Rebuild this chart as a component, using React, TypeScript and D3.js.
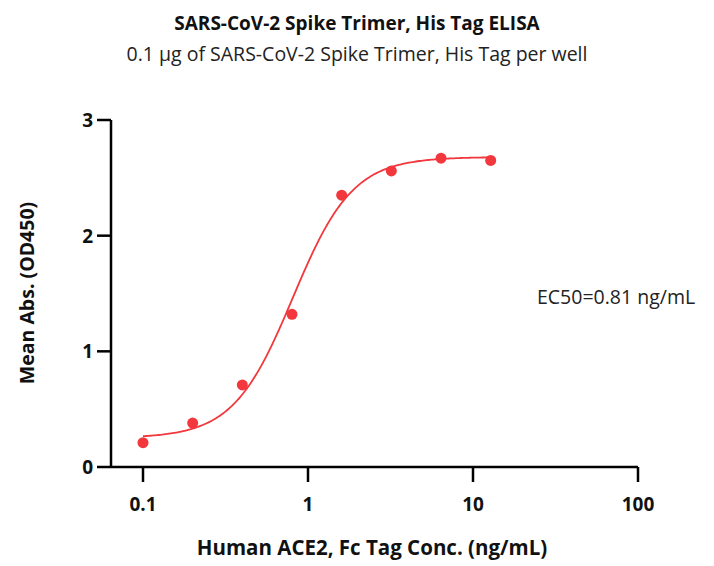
import React from "react";
import * as d3 from "d3";

const concentrations = [0.1, 0.2, 0.4, 0.8, 1.6, 3.2, 6.4, 12.8];
const absorbance = [0.21, 0.38, 0.71, 1.32, 2.35, 2.56, 2.67, 2.65];
const xTicks = [0.1, 1, 10, 100];
const xTickLabels = ["0.1", "1", "10", "100"];
const yTicks = [0, 1, 2, 3];
// 4-parameter logistic fit
const fitBottom = 0.25;
const fitTop = 2.68;
const fitEC50 = 0.81;
const fitHill = 2.4;

const title = "SARS-CoV-2 Spike Trimer, His Tag ELISA";
const subtitle = "0.1 µg of SARS-CoV-2 Spike Trimer, His Tag per well";
const xLabel = "Human ACE2, Fc Tag Conc. (ng/mL)";
const yLabel = "Mean Abs. (OD450)";
const ec50Label = "EC50=0.81 ng/mL";

const W = 714;
const H = 566;
const FONT = "'Open Sans', 'Noto Sans', sans-serif";
const RED = "#f2373d";

export default function App() {
  const x = d3.scaleLog().domain([0.1, 100]).range([143, 638]);
  const x0 = 111;
  const y = d3.scaleLinear().domain([0, 3]).range([467, 120]);

  const fit = (c: number) => fitBottom + (fitTop - fitBottom) / (1 + Math.pow(fitEC50 / c, fitHill));
  const lo = Math.log10(concentrations[0]);
  const hi = Math.log10(concentrations[concentrations.length - 1]);
  const curveXs = d3.range(0, 201).map((i) => Math.pow(10, lo + (i / 200) * (hi - lo)));
  const line = d3.line<number>().x((c) => x(c)).y((c) => y(fit(c)));

  return (
    <svg width={W} height={H} style={{ position: "absolute", left: 0, top: 0, background: "#fff" }}>
      <rect width={W} height={H} fill="#fff" />
      <text x={357} y={30} textAnchor="middle" fontFamily={FONT} fontWeight="bold" fontSize={19} fill="#111">{title}</text>
      <text x={357} y={61} textAnchor="middle" fontFamily={FONT} fontSize={19.5} fill="#222">{subtitle}</text>

      <line x1={x0} x2={x0} y1={y(3)} y2={y(0)} stroke="#000" strokeWidth={2.5} />
      <line x1={x0} x2={x(100)} y1={y(0)} y2={y(0)} stroke="#000" strokeWidth={2.5} />
      {yTicks.map((t) => (
        <g key={"y" + t}>
          <line x1={x0 - 14} x2={x0} y1={y(t)} y2={y(t)} stroke="#000" strokeWidth={2.5} />
          <text x={x0 - 18} y={y(t)} dy="0.36em" textAnchor="end" fontFamily={FONT} fontWeight="bold" fontSize={19} fill="#111">{t}</text>
        </g>
      ))}
      {xTicks.map((t, i) => (
        <g key={"x" + t}>
          <line x1={x(t)} x2={x(t)} y1={y(0)} y2={y(0) + 15} stroke="#000" strokeWidth={2.5} />
          <text x={x(t)} y={511} textAnchor="middle" fontFamily={FONT} fontWeight="bold" fontSize={19} fill="#111">{xTickLabels[i]}</text>
        </g>
      ))}

      <text x={372} y={555} textAnchor="middle" fontFamily={FONT} fontWeight="bold" fontSize={20.5} fill="#111">{xLabel}</text>
      <text transform={`translate(34,293) rotate(-90)`} textAnchor="middle" fontFamily={FONT} fontWeight="bold" fontSize={19.5} fill="#111">{yLabel}</text>

      <path d={line(curveXs) || ""} fill="none" stroke={RED} strokeWidth={1.8} />
      {concentrations.map((c, i) => (
        <circle key={i} cx={x(c)} cy={y(absorbance[i])} r={5.5} fill={RED} />
      ))}

      <text x={537} y={304} fontFamily={FONT} fontSize={19.5} fill="#222">{ec50Label}</text>
    </svg>
  );
}
